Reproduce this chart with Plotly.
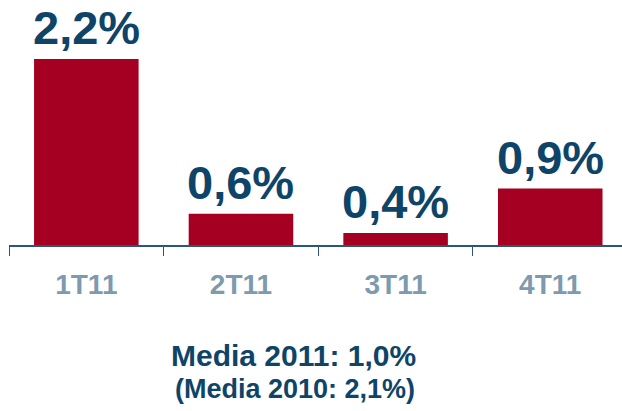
import plotly.graph_objects as go

categories = ["1T11", "2T11", "3T11", "4T11"]
values = [2.2, 0.6, 0.4, 0.86]
value_labels = ["2,2%", "0,6%", "0,4%", "0,9%"]
footer_line1 = "Media 2011: 1,0%"
footer_line2 = "(Media 2010: 2,1%)"

BAR_RED = "#A50021"
TEXT_BLUE = "#0F4469"
TICK_GREY = "#7D9AAE"
AXIS_BLUE = "#2A5678"
FONT = "Liberation Sans, Arial, sans-serif"

fig = go.Figure()
fig.add_trace(go.Bar(
    x=categories,
    y=values,
    marker=dict(color=BAR_RED, line=dict(width=0)),
    hoverinfo="skip",
))

for c, v, t in zip(categories, values, value_labels):
    fig.add_annotation(
        x=c, y=v, xref="x", yref="y", text=t, showarrow=False,
        yanchor="bottom", xanchor="center", yshift=3,
        font=dict(family=FONT, size=47, color=TEXT_BLUE, weight="bold"),
    )

fig.add_annotation(
    x=0.464, y=-0.453, xref="paper", yref="paper", text=footer_line1,
    showarrow=False, xanchor="center", yanchor="middle",
    font=dict(family=FONT, size=30, color=TEXT_BLUE, weight="bold"),
)
fig.add_annotation(
    x=0.466, y=-0.588, xref="paper", yref="paper", text=footer_line2,
    showarrow=False, xanchor="center", yanchor="middle",
    font=dict(family=FONT, size=27, color=TEXT_BLUE, weight="bold"),
)

fig.update_layout(
    width=622, height=411,
    margin=dict(l=9, r=0, t=0, b=166),
    paper_bgcolor="white", plot_bgcolor="white",
    bargap=0.324,
    showlegend=False,
    xaxis=dict(
        type="category",
        range=[-0.5, 3.464],
        showline=True, linecolor=AXIS_BLUE, linewidth=1.5,
        ticks="outside", tickson="boundaries", ticklen=9,
        tickcolor=AXIS_BLUE, tickwidth=1,
        tickfont=dict(family=FONT, size=28, color=TICK_GREY, weight="bold"),
        ticklabelstandoff=14,
        showgrid=False, zeroline=False, fixedrange=True,
    ),
    yaxis=dict(
        range=[0.276, 2.81],
        visible=False, showgrid=False, zeroline=False, fixedrange=True,
    ),
)

fig.write_html(
    "out.html",
    config={"displayModeBar": False},
    post_script="document.body.style.margin='0';document.body.style.overflow='hidden';",
)
